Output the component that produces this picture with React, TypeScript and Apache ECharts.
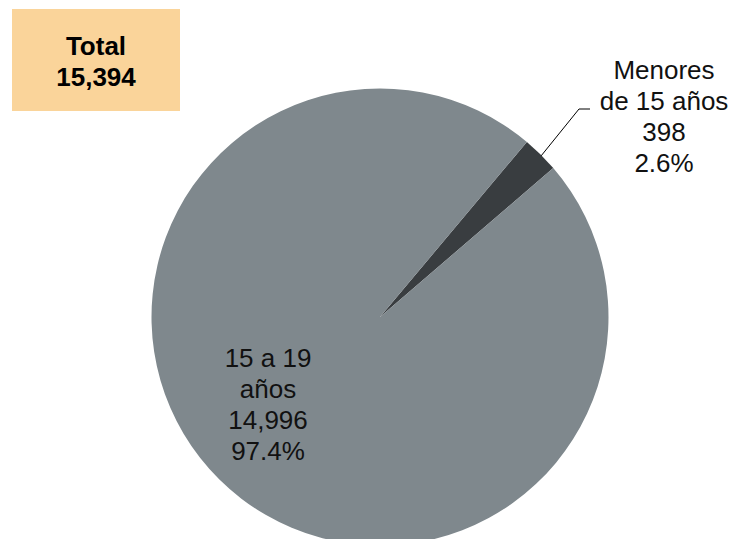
import React, { useEffect, useRef } from "react";
import * as echarts from "echarts";

const categories = ["Menores de 15 años", "15 a 19 años"];
const displayNames = ["Menores\nde 15 años", "15 a 19\naños"];
const values = [398, 14996];
const colors = ["#393D40", "#7F888D"];

const fmt = (n: number) => n.toLocaleString("en-US");
const total = values.reduce((a, b) => a + b, 0);

export default function App() {
  const ref = useRef<HTMLDivElement>(null);
  useEffect(() => {
    document.body.style.margin = "0";
    const chart = echarts.init(ref.current!, null, { renderer: "svg" });
    chart.setOption({
      animation: false,
      backgroundColor: "#ffffff",
      graphic: [
        {
          type: "rect",
          shape: { x: 12, y: 9, width: 168, height: 102 },
          style: { fill: "#FAD49A" },
        },
        {
          type: "text",
          x: 96,
          y: 61,
          style: {
            text: "Total\n" + fmt(total),
            font: "bold 26px Arial, 'Liberation Sans', sans-serif",
            fill: "#000000",
            align: "center",
            verticalAlign: "middle",
            lineHeight: 31,
          },
        },
      ],
      series: [
        {
          type: "pie",
          center: [380, 317],
          radius: 228.5,
          startAngle: 50,
          clockwise: true,
          data: categories.map((c, i) => ({
            name: c,
            value: values[i],
            itemStyle: { color: colors[i] },
            label: {
              position: i === 0 ? "outside" : "inside",
            },
            labelLine: { show: i === 0 },
          })),
          label: {
            show: true,
            formatter: (p: any) =>
              displayNames[p.dataIndex] + "\n" + fmt(p.value) + "\n" + p.percent.toFixed(1) + "%",
            fontSize: 26,
            lineHeight: 31,
            fontFamily: "Arial, 'Liberation Sans', sans-serif",
            color: "#111111",
            align: "center",
          },
          labelLine: {
            show: true,
            lineStyle: { color: "#000000", width: 1 },
          },
          labelLayout: (params: any) => {
            if (params.dataIndex === 0) {
              return {
                x: 664,
                y: 116,
                align: "center",
                verticalAlign: "middle",
                labelLinePoints: [
                  [541, 156],
                  [579, 109],
                  [590, 109],
                ],
              };
            }
            return { x: 268, y: 404, align: "center", verticalAlign: "middle" };
          },
          emphasis: { disabled: true },
        },
      ],
    });
    return () => chart.dispose();
  }, []);
  return <div ref={ref} style={{ width: 730, height: 539 }} />;
}
